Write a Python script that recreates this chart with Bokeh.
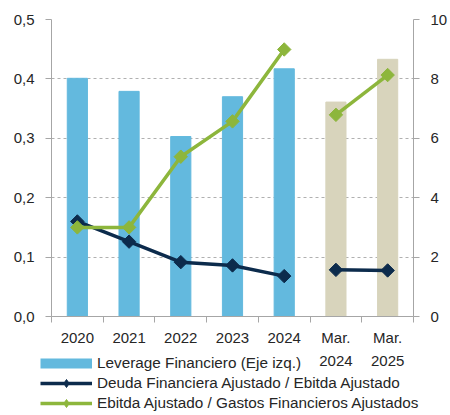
from bokeh.plotting import figure
from bokeh.models import Range1d, LinearAxis, FixedTicker, Legend, LegendItem, ColumnDataSource
from bokeh.embed import file_html
from bokeh.resources import INLINE
import numpy as np

categories = ["2020", "2021", "2022", "2023", "2024", "Mar.\n2024", "Mar.\n2025"]
leverage = [0.401, 0.379, 0.303, 0.370, 0.417, 0.361, 0.433]
deuda_ebitda = [3.2, 2.52, 1.83, 1.72, 1.36, 1.57, 1.55]
ebitda_gastos = [3.0, 3.0, 5.38, 6.57, 8.99, 6.79, 8.13]
bar_colors = ["#63B9DE"] * 5 + ["#D8D4BC"] * 2
left_ticks = [0.0, 0.1, 0.2, 0.3, 0.4, 0.5]
left_labels = ["0,0", "0,1", "0,2", "0,3", "0,4", "0,5"]
right_ticks = [0, 2, 4, 6, 8, 10]
legend_labels = ["Leverage Financiero (Eje izq.)",
                 "Deuda Financiera Ajustado / Ebitda Ajustado",
                 "Ebitda Ajustado / Gastos Financieros Ajustados"]

FONT = "Liberation Sans"
TXT = "#262626"
AX = "#A6A6A6"
NAVY = "#0C2B4C"
GREEN = "#8DB63C"
BLUE = "#63B9DE"

xs = [i + 0.5 for i in range(len(categories))]

p = figure(width=450, height=372, output_backend="svg", toolbar_location=None,
           x_range=Range1d(0, 7), y_range=Range1d(0, 0.5),
           min_border_left=51, min_border_right=35, min_border_top=19,
           min_border_bottom=54)
p.outline_line_color = None
p.extra_y_ranges = {"r": Range1d(0, 10)}

p.xgrid.visible = False
p.ygrid.ticker = FixedTicker(ticks=left_ticks)
p.ygrid.grid_line_color = "#B0B0B0"
p.ygrid.grid_line_dash = "3 3"

src = ColumnDataSource(dict(x=xs, top=leverage, color=bar_colors))
p.vbar(x="x", top="top", width=0.39, color="color", source=src)

seg = [slice(0, 5), slice(5, 7)]
for vals, col in [(deuda_ebitda, NAVY), (ebitda_gastos, GREEN)]:
    for s in seg:
        p.line(xs[s], vals[s], y_range_name="r", line_color=col, line_width=3.5)
    p.scatter(xs, vals, y_range_name="r", marker="square", angle=np.pi / 4,
              size=9.5, fill_color=col, line_color=col)

def style_y(ax):
    ax.axis_line_color = AX
    ax.major_tick_line_color = AX
    ax.major_tick_out = 6
    ax.major_tick_in = 0
    ax.minor_tick_line_color = None
    ax.major_label_text_font = FONT
    ax.major_label_text_font_size = "15px"
    ax.major_label_text_color = TXT
    ax.major_label_standoff = 11

p.yaxis.ticker = FixedTicker(ticks=left_ticks)
p.yaxis.major_label_overrides = {t: l for t, l in zip(left_ticks, left_labels)}
style_y(p.yaxis[0])

ra = LinearAxis(y_range_name="r", ticker=FixedTicker(ticks=right_ticks))
style_y(ra)
p.add_layout(ra, "right")

p.xaxis.ticker = FixedTicker(ticks=xs, minor_ticks=list(range(0, 8)))
p.xaxis.major_label_overrides = {x: c for x, c in zip(xs, categories)}
p.xaxis.axis_line_color = AX
p.xaxis.major_tick_line_color = None
p.xaxis.minor_tick_line_color = AX
p.xaxis.minor_tick_out = 6
p.xaxis.minor_tick_in = 0
p.xaxis.major_label_text_font = FONT
p.xaxis.major_label_text_font_size = "15px"
p.xaxis.major_label_text_color = TXT
p.xaxis.major_label_text_line_height = 1.4
p.xaxis.major_label_standoff = 6

# legend panel: separate root overlapping the area below the x axis, transparent
q = figure(width=450, height=75, output_backend="svg", toolbar_location=None,
           x_range=Range1d(0, 1), y_range=Range1d(0, 1),
           x_axis_location=None, y_axis_location=None,
           min_border=0, margin=(-32, 0, 0, 0))
q.outline_line_color = None
q.grid.visible = False
q.background_fill_alpha = 0
q.border_fill_alpha = 0

r_bar = q.line([np.nan], [np.nan], line_color=BLUE, line_width=10)
r_navy_l = q.line([np.nan], [np.nan], line_color=NAVY, line_width=3.5)
r_navy_m = q.scatter([np.nan], [np.nan], marker="diamond", size=12,
                     fill_color=NAVY, line_color=NAVY)
r_green_l = q.line([np.nan], [np.nan], line_color=GREEN, line_width=3.5)
r_green_m = q.scatter([np.nan], [np.nan], marker="diamond", size=12,
                      fill_color=GREEN, line_color=GREEN)

legend = Legend(items=[
    LegendItem(label=legend_labels[0], renderers=[r_bar]),
    LegendItem(label=legend_labels[1], renderers=[r_navy_l, r_navy_m]),
    LegendItem(label=legend_labels[2], renderers=[r_green_l, r_green_m]),
], location=(40, 2))
legend.padding = 0
legend.margin = 0
legend.spacing = 0
legend.border_line_color = None
legend.background_fill_alpha = 0
legend.glyph_width = 52
legend.glyph_height = 20
legend.label_height = 20
legend.label_standoff = 5
legend.label_text_font = FONT
legend.label_text_font_size = "15.3px"
legend.label_text_color = TXT
q.add_layout(legend, "center")

open("out.html", "w").write(file_html([p, q], INLINE))
